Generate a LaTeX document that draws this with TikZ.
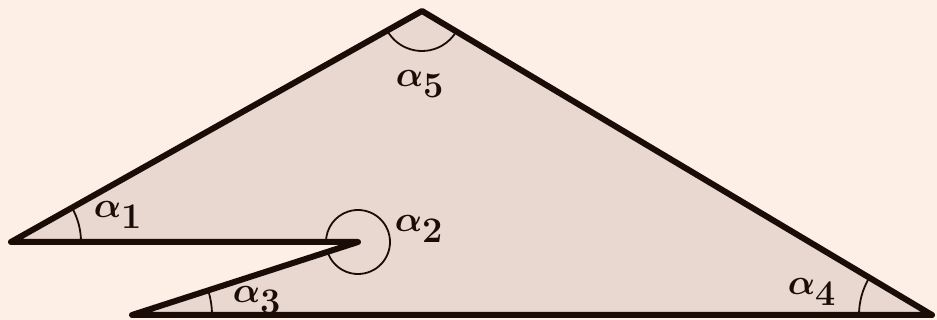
\documentclass[tikz,border=0pt]{standalone}
\usepackage{graphicx}
\definecolor{bgc}{HTML}{FDEFE6}
\definecolor{fillc}{HTML}{E8D8CF}
\definecolor{linec}{HTML}{1A0C07}
\newcommand{\biglab}[1]{\scalebox{1.45}{\fontsize{34}{38}\selectfont\boldmath$\alpha_{#1}$}}
\begin{document}
\begin{tikzpicture}[x=1pt,y=1pt,
  outline/.style={draw=linec,line width=6pt,line join=round,line cap=round,fill=fillc},
  anglearc/.style={draw=linec,line width=1.8pt},
  alabel/.style={text=linec,inner sep=0pt}]
\fill[bgc] (0,0) rectangle (937,320);
\useasboundingbox (0,0) rectangle (937,320);
\coordinate (A) at (11,78);
\coordinate (T) at (422,309);
\coordinate (R) at (932,5);
\coordinate (B) at (132,5);
\coordinate (V) at (358,78);
\path[outline] (A) -- (T) -- (R) -- (B) -- (V) -- cycle;
\draw[anglearc] ([shift={(0:70)}]A) arc (0:29.3:70);
\draw[anglearc] ([shift={(209.3:40)}]T) arc (209.3:329.3:40);
\draw[anglearc] ([shift={(149.3:73)}]R) arc (149.3:180:73);
\draw[anglearc] ([shift={(0:80)}]B) arc (0:17.8:80);
\draw[anglearc] ([shift={(197.8:32)}]V) arc (197.8:540:32);
\node[alabel] (l1) at (118,105) {\biglab{1}};
\node[alabel] (l2) at (419,91) {\biglab{2}};
\node[alabel] (l5) at (420,236) {\biglab{5}};
\node[alabel] (l3) at (257,20) {\biglab{3}};
\node[alabel] (l4) at (812,28) {\biglab{4}};
\end{tikzpicture}
\end{document}
